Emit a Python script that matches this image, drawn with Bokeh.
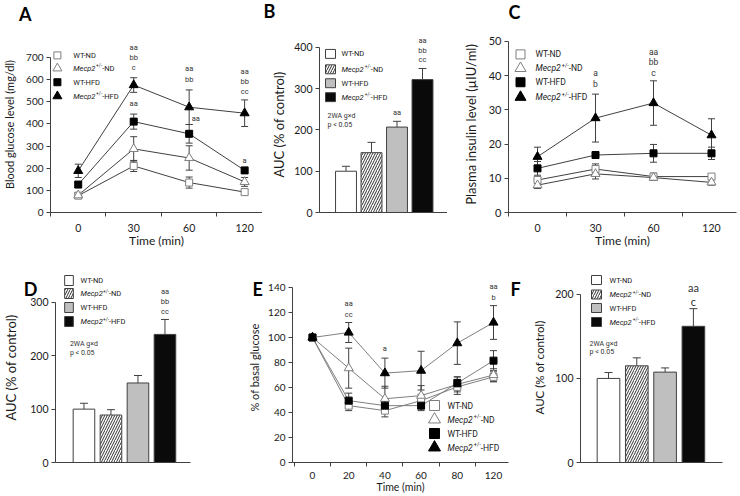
from bokeh.plotting import figure
from bokeh.models import Range1d, FixedTicker, Whisker, TeeHead, ColumnDataSource
from bokeh.layouts import row, column
from bokeh.core.properties import value
from bokeh.embed import file_html
from bokeh.resources import INLINE

FONT = "Lato"
SMALL = "Roboto"
AX = "#404040"
TXT = "#1a1a1a"
GRAYLINE = "#7f7f7f"

# ---------------- data ----------------
groups = ["WT-ND", "Mecp2+/--ND", "WT-HFD", "Mecp2+/--HFD"]

# A: blood glucose (mg/dl) during GTT
a_times = ["0", "30", "60", "120"]
a_yticks = [0, 100, 200, 300, 400, 500, 600, 700]
a_wt_nd = [76, 210, 135, 92]
a_wt_nd_err = [10, 25, 25, 10]
a_mecp2_nd = [78, 287, 246, 138]
a_mecp2_nd_err = [12, 55, 55, 20]
a_wt_hfd = [126, 410, 355, 190]
a_wt_hfd_err = [10, 34, 42, 8]
a_mecp2_hfd = [188, 575, 475, 448]
a_mecp2_hfd_err = [30, 33, 78, 60]
a_sig_x = [1, 1, 1, 1, 2, 2, 2.12, 3, 3, 3, 3]
a_sig_y = [744, 700, 656, 491, 648, 601, 423, 637, 592, 548, 233]
a_sig = ["aa", "bb", "c", "aa", "aa", "bb", "aa", "aa", "bb", "cc", "a"]

# B: AUC of GTT (% of control)
b_yticks = [0, 100, 200, 300, 400]
b_auc = [100, 145, 207, 322]
b_err = [12, 25, 14, 27]
b_sig_x = [2, 3, 3, 3]
b_sig_y = [243, 416, 393, 370]
b_sig = ["aa", "aa", "bb", "cc"]
b_stat = ["2WA g\u00d7d", "p < 0.05"]
b_stat_x = [-0.725, -0.725]
b_stat_y = [234, 212]

# C: plasma insulin (uIU/ml)
c_times = ["0", "30", "60", "120"]
c_yticks = [0, 10, 20, 30, 40, 50]
c_wt_nd = [9.5, 12.7, 10.5, 10.5]
c_wt_nd_err = [1.0, 1.5, 1.0, 0.8]
c_mecp2_nd = [8.0, 11.3, 10.2, 8.8]
c_mecp2_nd_err = [1.0, 1.5, 0.8, 0.8]
c_wt_hfd = [12.9, 16.8, 17.3, 17.3]
c_wt_hfd_err = [2.0, 1.0, 2.6, 1.8]
c_mecp2_hfd = [16.3, 27.6, 32.0, 22.6]
c_mecp2_hfd_err = [2.8, 7.0, 6.5, 4.8]
c_sig_x = [1, 1, 2, 2, 2]
c_sig_y = [40.7, 37.7, 46.8, 43.9, 40.9]
c_sig = ["a", "b", "aa", "bb", "c"]

# D: AUC of insulin (% of control)
d_yticks = [0, 100, 200, 300]
d_auc = [100, 89, 149, 240]
d_err = [11, 10, 14, 28]
d_sig_x = [3, 3, 3]
d_sig_y = [320, 301, 282]
d_sig = ["aa", "bb", "cc"]
d_stat = ["2WA g\u00d7d", "p < 0.05"]
d_stat_x = [-0.52, -0.52]
d_stat_y = [222, 205]

# E: ITT, % of basal glucose
e_times = ["0", "20", "40", "60", "80", "120"]
e_yticks = [0, 20, 40, 60, 80, 100, 120, 140]
e_wt_nd = [100, 45.5, 41.5, 49.5, 60.5, 68.5]
e_wt_nd_err = [0, 4, 5, 5, 6, 4]
e_mecp2_nd = [100, 75.5, 51, 53.5, 62.5, 70]
e_mecp2_nd_err = [0, 16, 10, 8, 6, 5]
e_wt_hfd = [100, 49.5, 45.5, 45.5, 63.5, 81.5]
e_wt_hfd_err = [0, 6, 5, 4, 5, 8]
e_mecp2_hfd = [100, 104, 71.5, 73.5, 95.5, 112]
e_mecp2_hfd_err = [0, 8, 12, 15.5, 17, 13.5]
e_sig_x = [1, 1, 2, 5, 5]
e_sig_y = [127, 118.5, 91.3, 140.5, 131.9]
e_sig = ["aa", "cc", "a", "aa", "b"]

# F: AUC of ITT (% of control)
f_yticks = [0, 100, 200]
f_auc = [100, 115, 107.5, 162]
f_err = [7, 9.5, 5, 21]
f_sig_x = [3, 3]
f_sig_y = [208, 192]
f_sig = ["aa", "c"]
f_stat = ["2WA g\u00d7d", "p < 0.05"]
f_stat_x = [-0.67, -0.67]
f_stat_y = [141, 131]

# ---------------- styles ----------------
LINE_MARKERS = [("square", "white", GRAYLINE), ("triangle", "white", GRAYLINE),
                ("square", "black", "black"), ("triangle", "black", "black")]
BAR_FILL = ["white", "white", "#bfbfbf", "#0a0a0a"]
BAR_HATCH = [" ", "/", " ", " "]

# approximate Roboto advance widths (em)
RW = {'M': .872, 'e': .528, 'c': .523, 'p': .56, '2': .561, '+': .566, '/': .412, '-': .276,
      'N': .713, 'D': .678, 'H': .713, 'F': .553, 'W': .887, 'T': .565}


def text_w(s, size):
    return sum(RW.get(ch, .56) for ch in s) * size


def make_fig(fig_box, frame_box, xr, yr):
    fx0, fy0, fx1, fy1 = fig_box
    x0, y0, x1, y1 = frame_box
    p = figure(width=fx1 - fx0, height=fy1 - fy0,
               x_range=Range1d(*xr), y_range=Range1d(*yr),
               output_backend="svg", toolbar_location=None, tools="",
               min_border_left=x0 - fx0, min_border_right=fx1 - x1,
               min_border_top=y0 - fy0, min_border_bottom=fy1 - y1)
    p.outline_line_color = None
    p.xgrid.visible = False
    p.ygrid.visible = False
    p.extra_x_ranges = {"px": Range1d(0, x1 - x0)}
    p.extra_y_ranges = {"px": Range1d(0, y1 - y0)}
    return p


def style_y(p, ticks, label, tick_size, label_size, standoff):
    ax = p.yaxis[0]
    ax.bounds = (ticks[0], ticks[-1])
    ax.ticker = FixedTicker(ticks=ticks)
    ax.minor_tick_line_color = None
    ax.major_tick_out = 4
    ax.major_tick_in = 0
    ax.axis_line_color = AX
    ax.major_tick_line_color = AX
    ax.major_label_text_font = FONT
    ax.major_label_text_font_size = tick_size
    ax.major_label_text_color = TXT
    ax.major_label_standoff = 3
    ax.axis_label = label
    ax.axis_label_text_font = FONT
    ax.axis_label_text_font_size = label_size
    ax.axis_label_text_font_style = "normal"
    ax.axis_label_text_color = TXT
    ax.axis_label_standoff = standoff


def style_x_cat(p, labels, tick_size, label_size, tick_standoff, label_standoff):
    ax = p.xaxis[0]
    n = len(labels)
    ax.ticker = FixedTicker(ticks=list(range(n)), minor_ticks=[i - 0.5 for i in range(n + 1)])
    ax.major_label_overrides = {i: lab for i, lab in enumerate(labels)}
    ax.major_tick_line_color = None
    ax.major_tick_out = 0
    ax.major_tick_in = 0
    ax.minor_tick_out = 4
    ax.minor_tick_in = 0
    ax.minor_tick_line_color = AX
    ax.axis_line_color = AX
    ax.major_label_text_font = FONT
    ax.major_label_text_font_size = tick_size
    ax.major_label_text_color = TXT
    ax.major_label_standoff = tick_standoff
    ax.axis_label = "Time (min)"
    ax.axis_label_text_font = FONT
    ax.axis_label_text_font_size = label_size
    ax.axis_label_text_font_style = "normal"
    ax.axis_label_text_color = TXT
    ax.axis_label_standoff = label_standoff


def style_x_bar(p):
    ax = p.xaxis[0]
    ax.ticker = FixedTicker(ticks=[])
    ax.major_tick_line_color = None
    ax.minor_tick_line_color = None
    ax.major_tick_out = 0
    ax.major_label_standoff = 0
    ax.axis_line_color = AX
    ax.major_label_text_font_size = "0px"


def whisker(p, src, head, lower_head=True):
    w = Whisker(source=src, base="x", lower="lo", upper="hi", dimension="height",
                line_color=AX, line_width=1,
                upper_head=TeeHead(size=head, line_color=AX, line_width=1),
                lower_head=TeeHead(size=head, line_color=AX, line_width=1) if lower_head else None)
    w.level = "underlay"
    p.add_layout(w)


def draw_lines(p, series, line_color, msize):
    srcs = []
    for vals, errs in series:
        src = ColumnDataSource(dict(x=list(range(len(vals))), y=vals,
                                    lo=[v - e for v, e in zip(vals, errs)],
                                    hi=[v + e for v, e in zip(vals, errs)]))
        srcs.append(src)
        whisker(p, src, 7)
    for src in srcs:
        p.line("x", "y", source=src, line_color=line_color, line_width=1)
    for src, (mk, fill, line) in zip(srcs, LINE_MARKERS):
        size = msize if mk == "square" else msize + 2
        p.scatter("x", "y", source=src, marker=mk, size=size, fill_color=fill,
                  line_color=line, line_width=1)


def draw_bars(p, vals, errs, width):
    src = ColumnDataSource(dict(x=list(range(len(vals))), top=vals, lo=vals,
                                hi=[v + e for v, e in zip(vals, errs)],
                                fill=BAR_FILL, hatch=BAR_HATCH))
    whisker(p, src, 8, lower_head=False)
    p.vbar(x="x", top="top", bottom=0, width=width, source=src, fill_color="fill",
           line_color=AX, line_width=1, hatch_pattern="hatch", hatch_color="#303030",
           hatch_scale=5, hatch_weight=1)


def sig_text(p, xs, ys, texts, size, font=SMALL, align="center"):
    p.text(x=xs, y=ys, text=texts, text_align=align, text_baseline="middle",
           text_font=value(font), text_font_size=size, text_color="#333333")


def legend_label(p, frame, xref, yref, g, fsize):
    px, py = xref - frame[0], frame[3] - yref
    if g.startswith("Mecp2"):
        rest = g[len("Mecp2+/-"):]
        pieces = [("Mecp2", "italic", fsize, 0.0),
                  ("+/-", "normal", round(fsize * 0.65, 1), fsize * 0.4),
                  (rest, "normal", fsize, 0.0)]
    else:
        pieces = [(g, "normal", fsize, 0.0)]
    x = px
    for txt, style, sz, dy in pieces:
        p.text(x=[x], y=[py + dy], text=[txt], x_range_name="px", y_range_name="px",
               text_font=value(SMALL), text_font_size=f"{sz}px", text_font_style=style,
               text_align="left", text_baseline="middle", text_color=TXT)
        x += text_w(txt, sz) + (0.4 if style == "italic" else 0)


def line_legend(p, frame, mx, tx, rows, msize, fsize):
    for g, yref, (mk, fill, line) in zip(groups, rows, LINE_MARKERS):
        size = msize if mk == "square" else msize + 2
        p.scatter(x=[mx - frame[0]], y=[frame[3] - yref], marker=mk, size=size,
                  fill_color=fill, line_color=line, line_width=1,
                  x_range_name="px", y_range_name="px")
        legend_label(p, frame, tx, yref, g, fsize)


def bar_legend(p, frame, bx, tx, rows, bw, bh, fsize):
    for g, yref, fill, hatch in zip(groups, rows, BAR_FILL, BAR_HATCH):
        p.rect(x=[bx - frame[0]], y=[frame[3] - yref], width=bw, height=bh,
               fill_color=fill, line_color=AX, line_width=1, hatch_pattern=hatch,
               hatch_color="#303030", hatch_scale=5, hatch_weight=1,
               x_range_name="px", y_range_name="px")
        legend_label(p, frame, tx, yref, g, fsize)


def letter(p, frame, xref, ymid, ch):
    p.text(x=[xref - frame[0]], y=[frame[3] - ymid], text=[ch],
           x_range_name="px", y_range_name="px", level="overlay",
           text_font=value(FONT), text_font_size="18px", text_font_style="bold",
           text_align="left", text_baseline="middle", text_color="black")


# ---------------- panel A ----------------
A_fig, A_frame = (0, 0, 262, 250), (47, 36, 262, 213)
pa = make_fig(A_fig, A_frame, (-0.5, 3.322), (0, 794))
style_y(pa, a_yticks, "Blood glucose level (mg/dl)", "10px", "11px", 7)
style_x_cat(pa, a_times, "10.5px", "12px", 7, -2)
draw_lines(pa, [(a_wt_nd, a_wt_nd_err), (a_mecp2_nd, a_mecp2_nd_err),
                (a_wt_hfd, a_wt_hfd_err), (a_mecp2_hfd, a_mecp2_hfd_err)], AX, 7)
sig_text(pa, a_sig_x, a_sig_y, a_sig, "7.5px")
line_legend(pa, A_frame, 54, 70, [55, 68, 82, 96], 7, 7.5)
letter(pa, A_frame, 15, 13.5, "A")

# ---------------- panel B ----------------
B_fig, B_frame = (262, 0, 447, 250), (319, 36, 447, 213)
pb = make_fig(B_fig, B_frame, (-1.039, 3.98), (0, 426.5))
style_y(pb, b_yticks, "AUC (% of control)", "10.5px", "13px", 4)
style_x_bar(pb)
draw_bars(pb, b_auc, b_err, 0.82)
sig_text(pb, b_sig_x, b_sig_y, b_sig, "7.5px")
sig_text(pb, b_stat_x, b_stat_y, b_stat, "7px", align="left")
bar_legend(pb, B_frame, 330, 341, [53.5, 69, 83, 97], 10, 9, 7.5)
letter(pb, B_frame, 263, 10.5, "B")

# ---------------- panel C ----------------
C_fig, C_frame = (447, 0, 740, 250), (508, 36, 736, 213)
pc = make_fig(C_fig, C_frame, (-0.5, 3.431), (0, 51.45))
style_y(pc, c_yticks, "Plasma insulin level (\u00b5IU/ml)", "11px", "13px", 7)
style_x_cat(pc, c_times, "10.5px", "12px", 7, -2)
draw_lines(pc, [(c_wt_nd, c_wt_nd_err), (c_mecp2_nd, c_mecp2_nd_err),
                (c_wt_hfd, c_wt_hfd_err), (c_mecp2_hfd, c_mecp2_hfd_err)], AX, 7)
sig_text(pc, c_sig_x, c_sig_y, c_sig, "8.5px")
line_legend(pc, C_frame, 520, 535, [54, 68, 82, 97], 9, 8.5)
letter(pc, C_frame, 508, 11, "C")

# ---------------- panel D ----------------
D_fig, D_frame = (0, 250, 245, 495), (50, 272, 190, 462)
pd_ = make_fig(D_fig, D_frame, (-1.054, 3.946), (0, 356))
style_y(pd_, d_yticks, "AUC (% of control)", "10.5px", "13px", 8)
style_x_bar(pd_)
draw_bars(pd_, d_auc, d_err, 0.8)
sig_text(pd_, d_sig_x, d_sig_y, d_sig, "7.5px")
sig_text(pd_, d_stat_x, d_stat_y, d_stat, "7px", align="left")
bar_legend(pd_, D_frame, 64, 76, [280, 293, 307, 321], 9, 10, 7.5)
letter(pd_, D_frame, 17, 288.5, "D")

# ---------------- panel E ----------------
E_fig, E_frame = (245, 250, 509, 495), (292, 272, 508, 462)
pe = make_fig(E_fig, E_frame, (-0.552, 5.414), (0, 152))
style_y(pe, e_yticks, "% of basal glucose", "10px", "11px", 4)
style_x_cat(pe, e_times, "10px", "10.5px", 5, -1)
draw_lines(pe, [(e_wt_nd, e_wt_nd_err), (e_mecp2_nd, e_mecp2_nd_err),
                (e_wt_hfd, e_wt_hfd_err), (e_mecp2_hfd, e_mecp2_hfd_err)], GRAYLINE, 7)
sig_text(pe, e_sig_x, e_sig_y, e_sig, "7.5px")
line_legend(pe, E_frame, 434, 447, [405, 419, 433, 447], 10, 8.5)
letter(pe, E_frame, 252, 288.5, "E")

# ---------------- panel F ----------------
F_fig, F_frame = (509, 250, 740, 495), (580, 272, 722, 462)
pf = make_fig(F_fig, F_frame, (-0.989, 4.028), (0, 226))
style_y(pf, f_yticks, "AUC (% of control)", "10.5px", "11.5px", 6)
style_x_bar(pf)
draw_bars(pf, f_auc, f_err, 0.8)
sig_text(pf, f_sig_x, f_sig_y, f_sig, "11px", font=FONT)
sig_text(pf, f_stat_x, f_stat_y, f_stat, "7px", align="left")
bar_legend(pf, F_frame, 596, 609, [279.5, 294, 307.5, 321.5], 10, 9, 7.5)
letter(pf, F_frame, 510, 288, "F")

layout = column(row(pa, pb, pc), row(pd_, pe, pf))
open("out.html", "w").write(file_html(layout, INLINE))
